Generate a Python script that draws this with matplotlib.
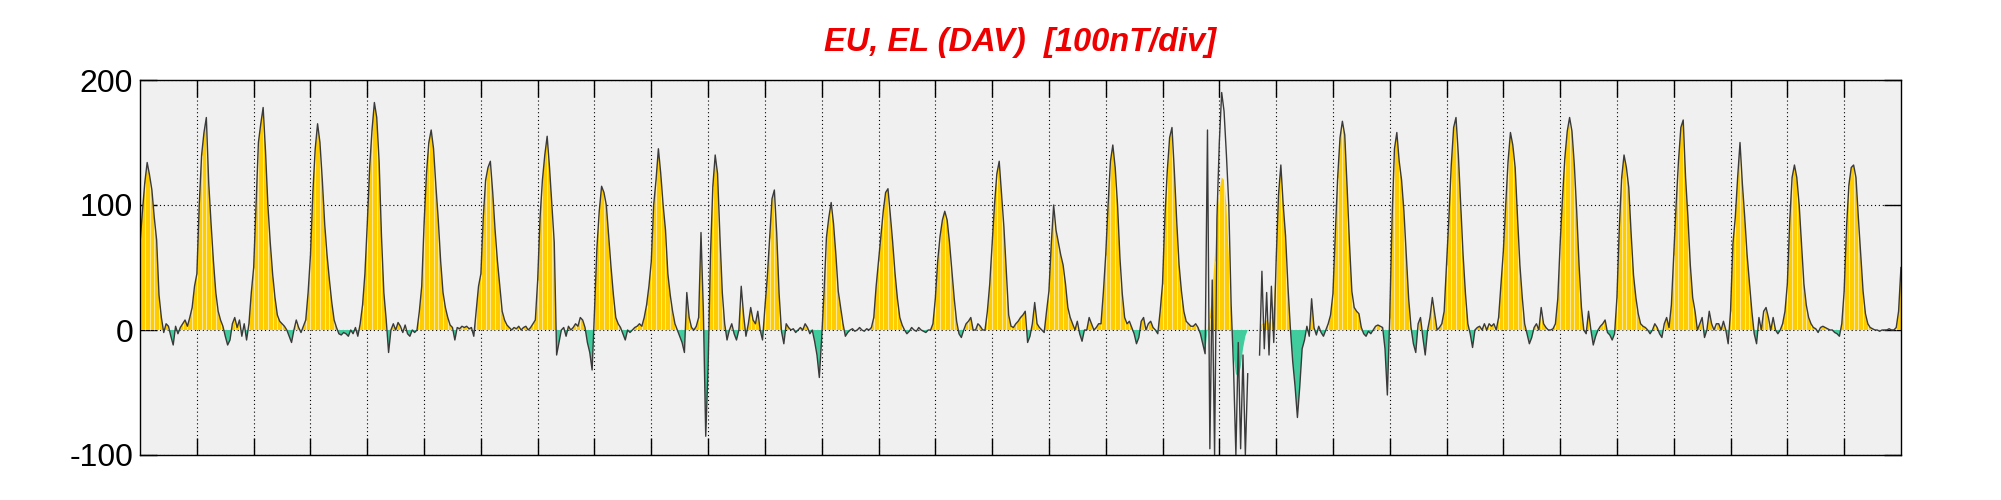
import numpy as np
import matplotlib
matplotlib.use("Agg")
import matplotlib.pyplot as plt

plt.rcParams["axes.unicode_minus"] = False

nan = float("nan")

# hourly EU/EL values (nT), 24 per day
week1 = [  # days 0-6
    70, 95, 118, 134, 124, 112, 90, 72, 28, 10, -2, 5, 3, -5, -12, 3, -3, 2, 5, 8, 3, 10, 18, 35,
    45, 100, 140, 158, 170, 118, 85, 55, 30, 15, 8, 3, -5, -12, -8, 5, 10, 2, 8, -5, 5, -8, 5, 30,
    50, 100, 150, 165, 178, 143, 100, 70, 45, 26, 12, 7, 5, 3, 0, -5, -10, 0, 8, 2, -2, 3, 8, 30,
    60, 110, 145, 165, 150, 120, 85, 60, 40, 22, 8, 2, -3, -4, -2, -3, -5, 0, -3, 2, -5, 5, 20, 45,
    85, 130, 160, 182, 170, 135, 75, 30, 8, -18, 0, 5, 0, 6, 3, -2, 4, -3, -5, 0, -2, 0, 15, 35,
    85, 125, 150, 160, 145, 115, 88, 55, 30, 18, 10, 4, 2, -8, 2, 1, 3, 2, 3, 1, 2, -5, 15, 35,
    45, 90, 120, 130, 135, 110, 80, 55, 35, 15, 8, 4, 2, 0, 2, 1, 3, 0, 2, 3, 0, 2, 5, 8,
]
week2 = [  # days 7-13
    40, 90, 120, 140, 155, 130, 100, 70, -20, -10, 0, 2, -5, 3, 0, 2, 5, 3, 10, 8, 2, -10, -18, -32,
    15, 65, 95, 115, 110, 100, 75, 50, 28, 10, 5, 2, -3, -8, 0, -2, 0, 2, 3, 5, 3, 10, 20, 35,
    55, 100, 120, 145, 125, 100, 80, 45, 28, 15, 5, 0, -5, -10, -18, 30, 10, 2, 0, 3, 10, 78, 15, -85,
    -30, 60, 115, 140, 125, 75, 30, 5, -8, 0, 5, -3, -8, 0, 35, 12, -5, 5, 18, 8, 5, 15, 0, -8,
    18, 42, 74, 105, 112, 77, 29, -1, -11, 5, 2, 0, 1, -2, 0, 2, 0, 5, 2, -3, 0, -9, -20, -38,
    -6, 31, 74, 90, 102, 85, 60, 31, 18, 5, -5, -2, 0, 1, -1, 0, 2, 0, -1, 1, 0, 2, 10, 35,
    55, 75, 95, 110, 113, 92, 70, 45, 25, 10, 4, 0, -3, -1, 2, 0, -1, 2, 0, -1, -2, 0, 0, 5,
]
week3 = [  # days 14-20 (day 19 has a data gap)
    25, 55, 75, 88, 95, 88, 70, 47, 25, 7, -3, -6, 0, 5, 7, 10, 0, 0, 5, 3, 0, 0, 15, 37,
    69, 100, 125, 135, 108, 82, 47, 12, 3, 2, 5, 7, 10, 12, 15, -10, -5, 5, 22, 5, 2, 0, -2, 15,
    31, 69, 100, 80, 70, 60, 52, 37, 18, 10, 5, 0, 7, -3, -9, 0, 0, 10, 5, 0, 2, 5, 5, 30,
    60, 100, 135, 148, 130, 100, 58, 29, 10, 5, 7, 2, -3, -11, -6, 7, 10, 0, 5, 7, 2, 0, -3, 15,
    37, 90, 127, 154, 162, 127, 87, 52, 31, 15, 7, 5, 3, 3, 5, 2, -3, -11, -19, 160, -95, 40, -100, 90,
    150, 190, 175, 140, 100, 20, -30, -100, -10, -95, -20, -100, -35, nan, -28, nan, nan, -20, 47, -15, 30, -20, 35, -10,
    55, 108, 132, 100, 75, 35, 2, -25, -45, -70, -45, -15, -8, 3, -5, 25, 2, -4, 3, -2, -5, 0, 5, 12,
]
week4 = [  # days 21-27
    29, 77, 122, 154, 167, 156, 114, 69, 31, 18, 15, 13, 2, -3, -5, -1, -3, 0, 3, 4, 3, 2, -15, -52,
    10, 90, 145, 158, 135, 120, 95, 60, 25, 2, -11, -18, 5, 10, -6, -20, 0, 10, 26, 13, 0, 2, 5, 15,
    52, 90, 132, 162, 170, 140, 100, 60, 29, 5, -3, -14, 0, 2, 3, 0, 5, 0, 5, 3, 5, 0, 10, 37,
    63, 100, 135, 158, 148, 130, 90, 52, 26, 5, -3, -11, -6, 2, 5, 0, 18, 5, 2, 0, 0, 1, 5, 25,
    69, 106, 138, 159, 170, 159, 132, 95, 52, 18, 0, -3, 15, 0, -12, -5, 0, 3, 5, 8, -2, -4, -8, -3,
    26, 82, 122, 140, 130, 114, 77, 44, 26, 13, 5, 3, 2, 0, -3, 0, 5, 2, -3, -6, 5, 10, 2, 20,
    60, 100, 135, 162, 168, 122, 90, 52, 26, 15, 0, 5, 10, -6, 0, 15, 5, 0, 5, 5, 0, 7, 0, -11,
]
week5 = [  # days 28-30 and the last sample
    15, 69, 90, 122, 150, 117, 90, 60, 37, 15, -3, -11, 10, 0, 15, 18, 10, 0, 10, 0, -3, 0, 5, 15,
    37, 87, 122, 132, 122, 100, 69, 37, 20, 10, 5, 2, 1, -2, 2, 3, 2, 1, 0, 0, -2, -3, -5, 5,
    31, 82, 116, 130, 132, 122, 90, 60, 31, 13, 5, 2, 1, 0, 0, -1, 0, 0, 0, 1, 0, 0, 2, 15,
    50,
]
# the shaded area is smoother than the raw trace during the day 18-19 storm
storm_start = 18 * 24
storm_fill = [
    37, 90, 127, 154, 162, 127, 87, 52, 31, 15, 7, 5, 3, 3, 5, 2, -3, -11, -19, 0, 10, 30, 55, 90,
    110, 122, 120, 100, 60, 10, -20, -35, -38, -30, -15, -5, 0, 0, 0, 0, 0, 0, 5, 5, 8, 5, 10, 20,
]
day_ticks = list(range(1, 31))
y_ticks = [-100, 0, 100, 200]
title = "EU, EL (DAV)  [100nT/div]"

eu = np.array(week1 + week2 + week3 + week4 + week5, dtype=float)
t = np.arange(len(eu)) / 24.0
shade = np.nan_to_num(eu.copy())
shade[storm_start:storm_start + len(storm_fill)] = storm_fill

fig = plt.figure(figsize=(20.01, 5.0), dpi=100)
ax = fig.add_axes([0.070, 0.09, 0.880, 0.75])
ax.set_facecolor("#f0f0f0")
ax.set_axisbelow(True)
ax.grid(True, color="black", linestyle=(0, (1, 2.5)), linewidth=0.8)

ax.fill_between(t, 0, shade, where=shade >= 0, interpolate=True, color="#ffcc00", linewidth=0)
ax.fill_between(t, 0, shade, where=shade <= 0, interpolate=True, color="#40cc9c", linewidth=0)
pos = np.clip(shade, 0, None)
ax.vlines(t[::2], 0, pos[::2], color="white", linewidth=0.6, alpha=0.7)
ax.plot(t, eu, color="#3a3a3a", linewidth=1.0)

ax.set_xlim(0, 31); ax.set_ylim(-100, 200)
ax.set_xticks(day_ticks); ax.set_xticklabels([])
ax.set_yticks(y_ticks)
ax.tick_params(axis="x", direction="in", length=12, width=1, top=True, bottom=True)
ax.tick_params(axis="y", direction="in", length=12, width=1, left=True, right=True,
               labelsize=23, pad=5)
for label in ax.get_yticklabels():
    label.set_fontfamily(["Liberation Sans", "DejaVu Sans"])
for spine in ax.spines.values():
    spine.set_linewidth(1.0)

ax.text(0.5, 1.101, title, transform=ax.transAxes, ha="center", va="center",
        color="#ee0000", fontsize=23.5, fontweight="bold", fontstyle="italic",
        family=["Liberation Sans", "DejaVu Sans"])

fig.savefig("out.png", dpi=100)
